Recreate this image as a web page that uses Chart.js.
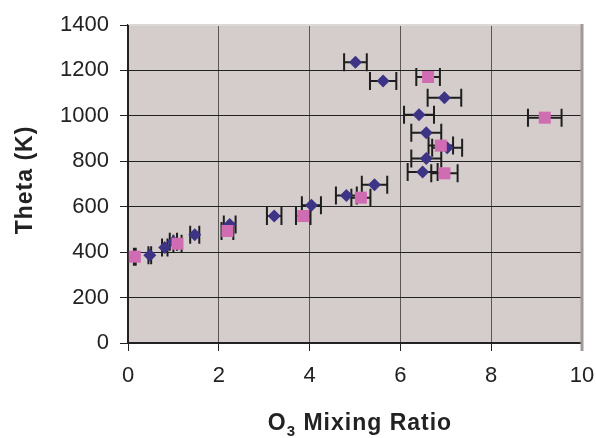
<!DOCTYPE html>
<html>
<head>
<meta charset="utf-8">
<script src="https://cdn.jsdelivr.net/npm/chart.js@4.4.0/dist/chart.umd.min.js"></script>
<style>
  html, body { margin: 0; padding: 0; background: #fff; }
  #wrap { width: 596px; height: 438px; }
</style>
</head>
<body>
<div id="wrap"><canvas id="chart" width="596" height="438"></canvas></div>
<script>
// Series 1 - diamonds
const diamondX = [0.48, 0.81, 1.0, 1.47, 2.24, 3.22, 4.04, 4.81, 5.43, 5.01, 5.62, 6.97, 6.41, 6.57, 7.03, 6.57, 6.49];
const diamondY = [386, 420, 446, 477, 522, 559, 606, 649, 697, 1236, 1153, 1080, 1005, 926, 860, 812, 753];
const diamondErr = [0.03, 0.06, 0.08, 0.1, 0.13, 0.16, 0.21, 0.23, 0.28, 0.25, 0.29, 0.37, 0.33, 0.33, 0.33, 0.33, 0.33];

// Series 2 - squares
const squareX = [0.15, 1.09, 2.19, 3.86, 5.13, 6.61, 9.18, 6.89, 6.97];
const squareY = [380, 437, 493, 559, 640, 1171, 992, 869, 747];
const squareErr = [0.02, 0.09, 0.13, 0.16, 0.21, 0.26, 0.37, 0.27, 0.29];

const xTicks = [0, 2, 4, 6, 8, 10];
const yTicks = [0, 200, 400, 600, 800, 1000, 1200, 1400];

const FONT = "'Liberation Sans', Arial, sans-serif";

function toPoints(xs, ys, errs) {
  return xs.map((x, i) => ({ x: x, y: ys[i], err: errs[i] }));
}

// plot background + borders + axis titles
const plotBox = {
  id: 'plotBox',
  beforeDraw(chart) {
    const { ctx, chartArea: a } = chart;
    ctx.save();
    ctx.fillStyle = '#d4cdcb';
    ctx.fillRect(a.left, a.top, a.right - a.left, a.bottom - a.top);
    ctx.restore();
  },
  afterDraw(chart) {
    const { ctx, chartArea: a } = chart;
    ctx.save();
    ctx.strokeStyle = '#dcd8d6';
    ctx.lineWidth = 1;
    ctx.beginPath();
    ctx.moveTo(a.left, a.top - 0.5);
    ctx.lineTo(a.right, a.top - 0.5);
    ctx.stroke();
    ctx.strokeStyle = '#a19998';
    ctx.lineWidth = 3;
    ctx.beginPath();
    ctx.moveTo(a.right, a.top - 1);
    ctx.lineTo(a.right, a.bottom + 8);
    ctx.stroke();

    // x title with subscript
    ctx.fillStyle = '#222';
    ctx.textBaseline = 'alphabetic';
    ctx.textAlign = 'left';
    ctx.letterSpacing = '1px';
    const big = `bold 23px ${FONT}`;
    const small = `bold 15px ${FONT}`;
    ctx.font = big;
    const wO = ctx.measureText('O').width;
    const wRest = ctx.measureText(' Mixing Ratio').width;
    ctx.font = small;
    const w3 = ctx.measureText('3').width;
    let tx = (a.left + a.right) / 2 + 5 - (wO + w3 + wRest) / 2;
    const by = 430;
    ctx.font = big;
    ctx.fillText('O', tx, by);
    tx += wO;
    ctx.font = small;
    ctx.fillText('3', tx, by + 6);
    tx += w3;
    ctx.font = big;
    ctx.fillText(' Mixing Ratio', tx, by);

    // y title
    ctx.translate(32, 180);
    ctx.rotate(-Math.PI / 2);
    ctx.textAlign = 'center';
    ctx.font = big;
    ctx.fillText('Theta (K)', 0, 0);
    ctx.restore();
  }
};

// horizontal error bars, through the scales
const errorBars = {
  id: 'errorBars',
  beforeDatasetsDraw(chart) {
    const { ctx, scales: { x, y } } = chart;
    ctx.save();
    ctx.strokeStyle = '#1e1e1e';
    ctx.lineWidth = 2;
    chart.data.datasets.forEach(ds => {
      ds.data.forEach(p => {
        const x0 = x.getPixelForValue(p.x - p.err);
        const x1 = x.getPixelForValue(p.x + p.err);
        const py = y.getPixelForValue(p.y);
        ctx.beginPath();
        ctx.moveTo(x0, py);
        ctx.lineTo(x1, py);
        ctx.moveTo(x0, py - 9);
        ctx.lineTo(x0, py + 9);
        ctx.moveTo(x1, py - 9);
        ctx.lineTo(x1, py + 9);
        ctx.stroke();
      });
    });
    ctx.restore();
  }
};

const chart = new Chart(document.getElementById('chart'), {
  type: 'scatter',
  data: {
    datasets: [
      {
        label: 'Series 1',
        data: toPoints(diamondX, diamondY, diamondErr),
        pointStyle: 'rectRot',
        pointRadius: 6.5,
        backgroundColor: '#3d3485',
        borderColor: '#3d3485',
        borderWidth: 0,
        order: 2
      },
      {
        label: 'Series 2',
        data: toPoints(squareX, squareY, squareErr),
        pointStyle: 'rect',
        pointRadius: 8.5,
        backgroundColor: '#d06cb2',
        borderColor: '#d06cb2',
        borderWidth: 0,
        order: 1
      }
    ]
  },
  options: {
    responsive: false,
    animation: false,
    layout: { padding: { top: 25, right: 14, left: 0, bottom: 0 } },
    plugins: {
      legend: { display: false },
      tooltip: { enabled: false }
    },
    scales: {
      x: {
        type: 'linear',
        min: 0,
        max: 10,
        afterFit(scale) {
          scale.height = 95;
          scale.paddingLeft = 0;
          scale.paddingRight = 0;
        },
        afterBuildTicks(scale) { scale.ticks = xTicks.map(v => ({ value: v })); },
        ticks: { color: '#222', padding: 12, font: { family: FONT, size: 22 }, callback: v => String(v) },
        grid: {
          color: ctx => ctx.tick && ctx.tick.value === 10 ? '#a19998' : '#5a5656',
          lineWidth: 1,
          tickLength: 8,
          tickColor: ctx => ctx.tick && ctx.tick.value === 10 ? '#8a8484' : '#222'
        },
        border: { color: '#222', width: 2 }
      },
      y: {
        type: 'linear',
        min: 0,
        max: 1400,
        afterFit(scale) { scale.width = 128; },
        afterBuildTicks(scale) { scale.ticks = yTicks.map(v => ({ value: v })); },
        ticks: { color: '#222', padding: 11, font: { family: FONT, size: 22 }, callback: v => String(v) },
        grid: {
          color: ctx => ctx.tick && ctx.tick.value === 1400 ? '#dcd8d6' : '#222',
          lineWidth: 1,
          tickLength: 8,
          tickColor: '#222'
        },
        border: { color: '#222', width: 2 }
      }
    }
  },
  plugins: [plotBox, errorBars]
});
</script>
</body>
</html>
